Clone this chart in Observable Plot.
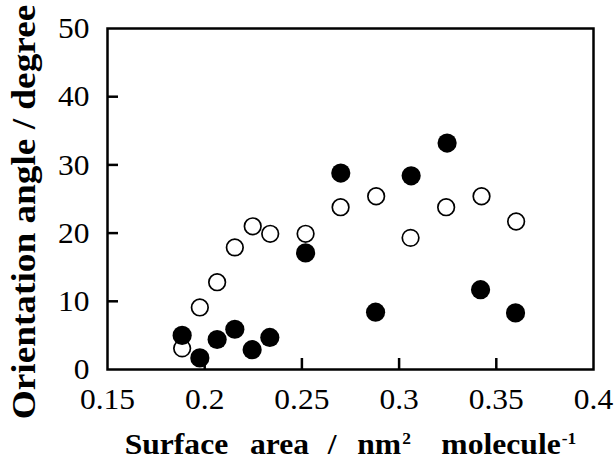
<!DOCTYPE html>
<html>
<head>
<meta charset="utf-8">
<script src="https://cdn.jsdelivr.net/npm/d3@7"></script>
<script src="https://cdn.jsdelivr.net/npm/@observablehq/plot@0.6"></script>
<style>
  html, body { margin: 0; padding: 0; background: #fff; }
  svg { display: block; }
</style>
</head>
<body>
<div id="chart"></div>
<script>
// Surface area (nm^2 molecule^-1)
const openX = [0.1884, 0.1975, 0.2064, 0.2155, 0.2247, 0.2337, 0.2519, 0.2699, 0.2882, 0.3059, 0.3242, 0.3424, 0.3602];
const openY = [3.1, 9.1, 12.8, 17.9, 21.0, 19.9, 19.9, 23.8, 25.4, 19.3, 23.8, 25.4, 21.7];
const filledX = [0.1884, 0.1975, 0.2064, 0.2155, 0.2244, 0.2335, 0.2519, 0.2700, 0.2879, 0.3062, 0.3247, 0.3419, 0.3599];
const filledY = [5.0, 1.7, 4.4, 5.9, 2.9, 4.7, 17.1, 28.8, 8.4, 28.4, 33.2, 11.7, 8.3];
const xTicks = [0.15, 0.2, 0.25, 0.3, 0.35, 0.4];
const yTicks = [0, 10, 20, 30, 40, 50];
const xTitle = ["Surface area / nm2 molecule-1"];
const yTitle = ["Orientation angle / degree"];

const openData = openX.map((x, i) => ({x, y: openY[i]}));
const filledData = filledX.map((x, i) => ({x, y: filledY[i]}));
const fmt = d => String(+d.toFixed(2));

const serif = "'Liberation Serif', 'Times New Roman', serif";

const plot = Plot.plot({
  width: 614,
  height: 461,
  marginTop: 28,
  marginLeft: 107,
  marginRight: 21,
  marginBottom: 92,
  style: {fontFamily: serif, background: "#fff", color: "#000"},
  x: {domain: [0.15, 0.4]},
  y: {domain: [0, 50]},
  marks: [
    Plot.frame({stroke: "#000", strokeWidth: 2.5}),
    // inward tick marks
    Plot.axisX(xTicks.slice(1, -1), {tickSize: -11, tickFormat: () => "", strokeWidth: 2.5, label: null}),
    Plot.axisY(yTicks.slice(1, -1), {tickSize: -11, tickFormat: () => "", strokeWidth: 2.5, label: null}),
    // tick labels
    Plot.axisX(xTicks, {tickSize: 0, tickPadding: 18, tickFormat: fmt, fontSize: 30, label: null, className: "ticklab"}),
    Plot.axisY(yTicks, {tickSize: 0, tickPadding: 18, tickFormat: d => String(d), fontSize: 30, label: null, className: "ticklab"}),
    Plot.dot(openData, {x: "x", y: "y", r: 8.3, stroke: "#000", strokeWidth: 1.7, fill: "#fff"}),
    Plot.dot(filledData, {x: "x", y: "y", r: 9.6, fill: "#000", stroke: "none"}),
    Plot.text(xTitle, {text: d => d, frameAnchor: "bottom", dy: 75, textAnchor: "middle", lineAnchor: "middle", fontSize: 29, fontWeight: "bold", fill: "#000", className: "xtitle"}),
    Plot.text(yTitle, {text: d => d, frameAnchor: "left", dx: -83, dy: 13, rotate: -90, textAnchor: "middle", lineAnchor: "middle", fontSize: 33, fontWeight: "bold", fill: "#000", className: "ytitle"})
  ]
});
document.getElementById("chart").appendChild(plot);

// the reference's lettering is slightly wide: stretch texts along their baseline
function stretch(sel, sx) {
  plot.querySelectorAll(sel).forEach(el => {
    const tr = el.getAttribute("transform") || "";
    el.setAttribute("transform", (tr + ` scale(${sx},1)`).trim());
  });
}

// word spacing and superscripts in the x title
const t = plot.querySelector(".xtitle text");
if (t) {
  t.textContent = "";
  const parts = [
    ["Surface", 0, false], ["area", 20, false], ["/", 17, false], ["nm", 19, false],
    ["2", 1, true], ["molecule", 28, false], ["-1", 1, true]
  ];
  for (const [s, gap, sup] of parts) {
    const ts = document.createElementNS("http://www.w3.org/2000/svg", "tspan");
    ts.textContent = s;
    if (gap) ts.setAttribute("dx", gap);
    if (sup) {
      ts.setAttribute("font-size", "16");
      ts.setAttribute("baseline-shift", "10");
    }
    t.appendChild(ts);
  }
}
stretch(".xtitle text", 1.09);
stretch(".ytitle text", 1.13);
stretch(".ticklab text", 1.05);
</script>
</body>
</html>
